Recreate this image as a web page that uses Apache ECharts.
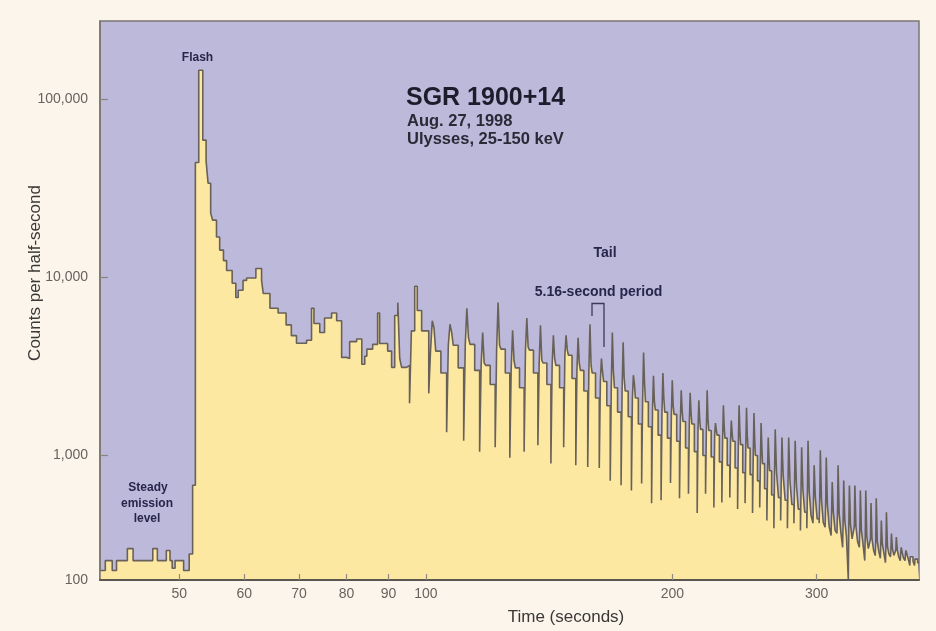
<!DOCTYPE html>
<html>
<head>
<meta charset="utf-8">
<script src="https://cdn.jsdelivr.net/npm/echarts/dist/echarts.min.js"></script>
<style>
html,body{margin:0;padding:0;background:#fcf5ec;}
#chart{width:936px;height:631px;}
</style>
</head>
<body>
<div id="chart"></div>
<script>
// ---- Data (time in seconds, counts per half-second) ----
// Steady level, flash and early decaying part (irregular points)
const earlyTimes = [40.0, 40.6, 41.4, 41.9, 43.2, 43.9, 46.4, 47.0, 48.2, 48.7, 49.0, 49.4, 50.6, 51.4, 51.9,
  52.3, 52.8, 53.4, 53.9, 54.2, 54.6, 54.9, 55.5, 56.0, 56.6, 57.1, 58.0, 58.6, 59.0, 59.8, 60.4, 62.0, 63.0, 63.3,
  64.5, 66.0, 67.5, 68.5, 69.5, 71.5, 72.5, 73.0, 74.2, 75.2, 76.7, 77.8, 78.9, 80.0, 80.7, 82.3, 83.5, 84.2, 84.7,
  86.1, 87.3, 87.8, 89.8, 90.8, 91.6, 92.4, 92.9, 93.4, 94.7, 95.5, 96.0, 96.9, 97.6, 98.8];
const earlyCounts = [226, 257, 226, 257, 300, 257, 300, 257, 293, 257, 233, 257, 226, 280, 680,
  44000, 145000, 58800, 45000, 33700, 22900, 20900, 16800, 14200, 12400, 10900, 9250, 7700, 8450, 9600, 9900, 11200, 9600, 8100,
  6700, 6300, 5400, 4700, 4260, 4430, 6700, 5500, 4900, 5900, 6300, 5700, 3550, 3500, 4350, 4500, 3250, 3600, 3950,
  4200, 6300, 4250, 3850, 3120, 6100, 7200, 3500, 3120, 3200, 1960, 5000, 8900, 6500, 5000];

// Tail: one entry per 5.16-s pulse (time of the dip; counts of the dip, shoulder, secondary, peak and late bins)
const pulseDipTimes = [100.8, 106.0, 111.2, 116.3, 121.5, 126.6, 131.8, 137.0, 142.1, 147.3, 152.4, 157.6, 162.8, 167.9,
  173.1, 178.2, 183.4, 188.6, 193.7, 198.9, 204.0, 209.2, 214.4, 219.5, 224.7, 229.8, 235.0, 240.2, 245.3, 250.5,
  255.6, 260.8, 266.0, 271.1, 276.3, 281.4, 286.6, 291.8, 296.9, 302.1, 307.2, 312.4, 317.6, 322.7, 327.9, 333.0,
  338.2, 343.4, 348.5, 353.7, 358.8, 364.0, 369.2, 374.3, 379.5, 384.6, 389.8, 395.0];
const pulseDips = [2230, 1350, 1210, 1050, 1110, 970, 1050, 1140, 900, 1110, 880, 860, 850, 720,
  680, 636, 695, 540, 560, 700, 575, 610, 475, 610, 510, 545, 580, 500, 540, 475,
  510, 431, 390, 431, 390, 417, 379, 390, 417, 417, 395, 355, 365, 305, 201, 333,
  305, 257, 293, 274, 265, 250, 270, 270, 257, 257, 241, 241];
const pulseShoulders = [3850, 4150, 4200, 3200, 3950, 3100, 3900, 3300, 3200, 3650, 3000, 2900, 2600, 2400,
  2300, 2100, 2000, 1800, 1750, 1700, 1550, 1500, 1400, 1380, 1300, 1250, 1200, 1150, 1100, 1000,
  900, 820, 800, 760, 720, 680, 640, 620, 580, 560, 530, 480, 470, 430, 410, 400,
  380, 350, 340, 330, 320, 310, 300, 295, 285, 280, 270, 262];
const pulseSeconds = [5200, 4900, 4600, 3300, 4150, 3420, 4050, 3420, 3500, 3900, 3300, 3200, 2950, 2950,
  2730, 2540, 2540, 2000, 2100, 1900, 1800, 1750, 1600, 1600, 1400, 1450, 1350, 1400, 1300, 1250,
  1150, 1000, 1050, 950, 950, 900, 830, 870, 700, 780, 720, 580, 650, 560, 540, 530,
  490, 480, 430, 440, 370, 390, 330, 320, 295, 288, 272, 265];
const pulsePeaks = [5700, 5450, 6700, 4900, 7200, 5040, 5900, 5370, 4720, 4720, 4570, 5450, 3500, 4900,
  4320, 2820, 3780, 2800, 2900, 2640, 2320, 2250, 2040, 2320, 1520, 1910, 1570, 1910, 1850, 1730,
  1520, 1260, 1400, 1260, 1260, 1210, 1110, 1210, 880, 1070, 975, 710, 880, 724, 678, 678,
  636, 636, 540, 575, 431, 480, 365, 348, 305, 293, 274, 268];
const pulseLates = [2900, 3100, 3000, 2500, 2900, 2400, 2900, 2500, 2400, 2700, 2300, 2100, 1900, 1750,
  1650, 1500, 1450, 1300, 1250, 1200, 1100, 1050, 1000, 980, 920, 880, 850, 800, 780, 720,
  650, 600, 580, 560, 530, 500, 480, 460, 440, 420, 400, 380, 370, 350, 340, 330,
  320, 300, 295, 290, 285, 280, 275, 270, 265, 262, 255, 250];
const endTime = 400;

// Axis ticks
const xTickValues = [50, 60, 70, 80, 90, 100, 200, 300];
const xTickLabels = ['50', '60', '70', '80', '90', '100', '200', '300'];
const yTickValues = [200, 1000, 10000, 100000];
const yTickLabels = ['100', '1,000', '10,000', '100,000'];

// ---- Build the step series ----
const seriesData = [];
for (let i = 0; i < earlyTimes.length; i++) seriesData.push([earlyTimes[i], earlyCounts[i]]);
for (let j = 0; j < pulseDipTimes.length; j++) {
  const t = pulseDipTimes[j];
  seriesData.push([t, pulseDips[j]]);
  seriesData.push([t + 0.5, pulseShoulders[j]]);
  seriesData.push([t + 1.0, pulsePeaks[j]]);
  seriesData.push([t + 1.5, pulseSeconds[j]]);
  seriesData.push([t + 2.0, pulseShoulders[j]]);
  seriesData.push([t + 3.5, pulseLates[j]]);
}
seriesData.push([endTime, pulseLates[pulseLates.length - 1]]);

function lookupLabel(values, labels, v) {
  for (let i = 0; i < values.length; i++) {
    if (Math.abs(Math.log10(values[i]) - Math.log10(v)) < 0.005) return labels[i];
  }
  return '';
}

const chart = echarts.init(document.getElementById('chart'), null, {renderer: 'canvas'});
const font = 'Liberation Sans, Arial, Helvetica, sans-serif';
const ink = '#27264a';

chart.setOption({
  backgroundColor: '#fcf5ec',
  animation: false,
  grid: {
    left: 100, right: 17, top: 21, bottom: 51,
    show: true, backgroundColor: '#bdb9db', borderColor: '#7a756f', borderWidth: 1.5
  },
  xAxis: {
    type: 'log', logBase: 10, min: 40, max: 400, z: 10,
    axisLine: {show: true, lineStyle: {color: '#5c5650', width: 2}},
    axisTick: {show: true, inside: true, length: 6, customValues: xTickValues, lineStyle: {color: '#8f897f', width: 1.2}},
    minorTick: {show: false},
    splitLine: {show: false},
    axisLabel: {
      customValues: xTickValues, margin: 7, fontSize: 14, color: '#66635f', fontFamily: font,
      formatter: v => lookupLabel(xTickValues, xTickLabels, v)
    }
  },
  yAxis: {
    type: 'log', logBase: 10, min: 200, max: 274000, z: 10,
    axisLine: {show: true, lineStyle: {color: '#7a756f', width: 1.5}},
    axisTick: {show: true, inside: true, length: 8, customValues: [1000, 10000, 100000], lineStyle: {color: '#8a847c', width: 1.2}},
    splitLine: {show: false},
    axisLabel: {
      customValues: yTickValues, margin: 12, fontSize: 14, color: '#66635f', fontFamily: font,
      formatter: v => lookupLabel(yTickValues, yTickLabels, v)
    }
  },
  series: [{
    type: 'line',
    step: 'end',
    data: seriesData,
    symbol: 'none',
    lineStyle: {color: '#67615a', width: 1.6},
    areaStyle: {color: '#fde8a2', opacity: 1, origin: 'start'}
  }],
  graphic: [
    {type: 'text', x: 197.5, y: 57.5, style: {text: 'Flash', fontSize: 12, fontWeight: 'bold', fontFamily: font, fill: ink, align: 'center', verticalAlign: 'middle'}},
    {type: 'text', x: 406, y: 98, style: {text: 'SGR 1900+14', fontSize: 25, fontWeight: 'bold', fontFamily: font, fill: '#1d1c2c', align: 'left', verticalAlign: 'middle'}},
    {type: 'text', x: 407, y: 121, style: {text: 'Aug. 27, 1998', fontSize: 16.5, fontWeight: 'bold', fontFamily: font, fill: '#2a2936', align: 'left', verticalAlign: 'middle'}},
    {type: 'text', x: 407, y: 139, style: {text: 'Ulysses, 25-150 keV', fontSize: 16.5, fontWeight: 'bold', fontFamily: font, fill: '#2a2936', align: 'left', verticalAlign: 'middle'}},
    {type: 'text', x: 605, y: 253, style: {text: 'Tail', fontSize: 14, fontWeight: 'bold', fontFamily: font, fill: ink, align: 'center', verticalAlign: 'middle'}},
    {type: 'text', x: 598.5, y: 292.5, style: {text: '5.16-second period', fontSize: 14, fontWeight: 'bold', fontFamily: font, fill: ink, align: 'center', verticalAlign: 'middle'}},
    {type: 'polyline', shape: {points: [[592, 316], [592, 303.5], [604, 303.5], [604, 347]]}, style: {stroke: '#3c3a58', lineWidth: 1.3, fill: null}},
    {type: 'text', x: 148, y: 488, style: {text: 'Steady', fontSize: 12, fontWeight: 'bold', fontFamily: font, fill: ink, align: 'center', verticalAlign: 'middle'}},
    {type: 'text', x: 147, y: 503.5, style: {text: 'emission', fontSize: 12, fontWeight: 'bold', fontFamily: font, fill: ink, align: 'center', verticalAlign: 'middle'}},
    {type: 'text', x: 147, y: 519, style: {text: 'level', fontSize: 12, fontWeight: 'bold', fontFamily: font, fill: ink, align: 'center', verticalAlign: 'middle'}},
    {type: 'text', x: 35, y: 273, rotation: Math.PI / 2, style: {text: 'Counts per half-second', fontSize: 17, fontFamily: font, fill: '#3a3836', align: 'center', verticalAlign: 'middle'}},
    {type: 'text', x: 566, y: 617, style: {text: 'Time (seconds)', fontSize: 17, fontFamily: font, fill: '#3a3836', align: 'center', verticalAlign: 'middle'}}
  ]
});
</script>
</body>
</html>
